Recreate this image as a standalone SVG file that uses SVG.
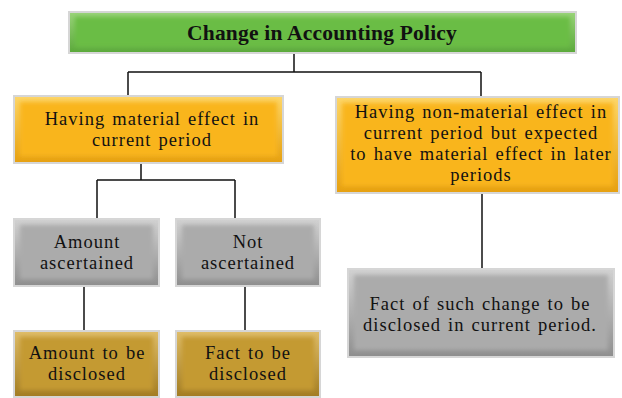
<svg xmlns="http://www.w3.org/2000/svg" width="622" height="398" viewBox="0 0 622 398">
<defs>
<filter id="soft" x="-10%" y="-20%" width="120%" height="140%"><feGaussianBlur stdDeviation="2.2"/></filter>
<linearGradient id="gG" x1="0" y1="0" x2="0" y2="1"><stop offset="0" stop-color="#9ad47a"/><stop offset="1" stop-color="#5aa83a"/></linearGradient>
<linearGradient id="gY" x1="0" y1="0" x2="0" y2="1"><stop offset="0" stop-color="#fdd66a"/><stop offset="1" stop-color="#e6a010"/></linearGradient>
<linearGradient id="gS" x1="0" y1="0" x2="0" y2="1"><stop offset="0" stop-color="#d2d2d2"/><stop offset="1" stop-color="#8e8e8e"/></linearGradient>
<linearGradient id="gB" x1="0" y1="0" x2="0" y2="1"><stop offset="0" stop-color="#dfbd6a"/><stop offset="1" stop-color="#a27c22"/></linearGradient>
</defs>
<style>
.frame{stroke:#d6d6d6;stroke-width:2}
.g{fill:url(#gG)} .gi{fill:#6bbd44}
.y{fill:url(#gY)} .yi{fill:#f9b51c}
.s{fill:url(#gS)} .si{fill:#ababab}
.b{fill:url(#gB)} .bi{fill:#c49a32}
.in{filter:url(#soft)}
text{font-family:"Liberation Serif","Times New Roman",serif;font-size:18.5px;letter-spacing:1px;word-spacing:1.5px;fill:#111;text-anchor:middle}
.t{font-weight:bold;font-size:21.5px;letter-spacing:0.2px;word-spacing:0}
#connectors path{fill:none;stroke:#111;stroke-width:1.5}
</style>
<g id="connectors">
<path d="M294 53V72M128 72H481M128 72V97M481 72V97"/>
<path d="M141 163V180M97 180H235M97 180V219M235 180V219"/>
<path d="M84 286V331M245 286V331"/>
<path d="M482 193V269"/>
</g>
<g id="n-root">
<rect class="frame g" x="69" y="12" width="507" height="41"/>
<rect class="gi in" x="75" y="17" width="495" height="30"/>
<text class="t" x="322" y="40">Change in Accounting Policy</text>
</g>
<g id="n-material">
<rect class="frame y" x="14" y="96" width="269" height="67"/>
<rect class="yi in" x="20" y="102" width="257" height="54"/>
<text x="152" y="125">Having material effect in</text>
<text x="152" y="146">current period</text>
</g>
<g id="n-nonmaterial">
<rect class="frame y" x="336" y="97" width="283" height="96"/>
<rect class="yi in" x="342" y="103" width="271" height="83"/>
<text x="481" y="118">Having non-material effect in</text>
<text x="481" y="139">current period but expected</text>
<text x="481" y="160">to have material effect in later</text>
<text x="481" y="181">periods</text>
</g>
<g id="n-amount">
<rect class="frame s" x="14" y="219" width="145" height="67"/>
<rect class="si in" x="20" y="225" width="133" height="54"/>
<text x="87" y="248">Amount</text>
<text x="87" y="269">ascertained</text>
</g>
<g id="n-not">
<rect class="frame s" x="176" y="219" width="144" height="67"/>
<rect class="si in" x="182" y="225" width="132" height="54"/>
<text x="248" y="248">Not</text>
<text x="248" y="269">ascertained</text>
</g>
<g id="n-amountdisc">
<rect class="frame b" x="14" y="331" width="145" height="66"/>
<rect class="bi in" x="20" y="337" width="133" height="53"/>
<text x="87" y="359">Amount to be</text>
<text x="87" y="380">disclosed</text>
</g>
<g id="n-factdisc">
<rect class="frame b" x="176" y="331" width="144" height="66"/>
<rect class="bi in" x="182" y="337" width="132" height="53"/>
<text x="248" y="359">Fact to be</text>
<text x="248" y="380">disclosed</text>
</g>
<g id="n-fact">
<rect class="frame s" x="348" y="269" width="266" height="88"/>
<rect class="si in" x="354" y="275" width="254" height="75"/>
<text x="480" y="310">Fact of such change to be</text>
<text x="480" y="331">disclosed in current period.</text>
</g>
</svg>
